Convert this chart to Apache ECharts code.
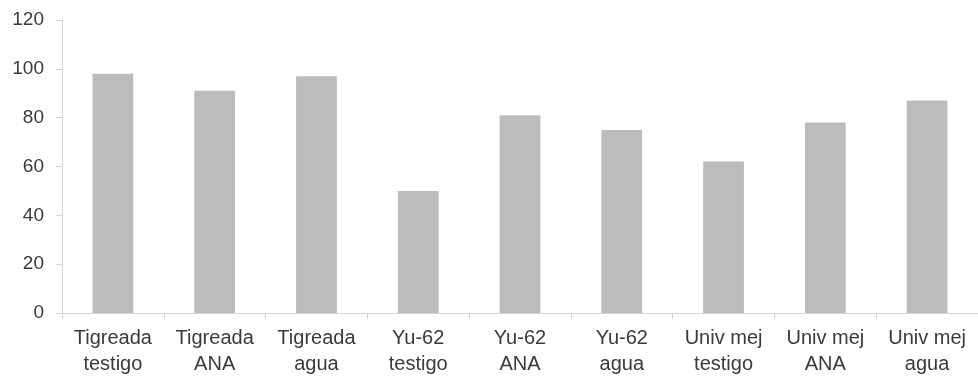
<!DOCTYPE html>
<html>
<head>
<meta charset="utf-8">
<script src="https://cdn.jsdelivr.net/npm/echarts@6/dist/echarts.min.js"></script>
<style>
  html, body { margin: 0; padding: 0; background: #ffffff; }
  #chart { width: 978px; height: 377px; }
</style>
</head>
<body>
<div id="chart"></div>
<script>
// Categories (variety + treatment), two-line labels
const categories = [
  'Tigreada\ntestigo', 'Tigreada\nANA', 'Tigreada\nagua',
  'Yu-62\ntestigo', 'Yu-62\nANA', 'Yu-62\nagua',
  'Univ mej\ntestigo', 'Univ mej\nANA', 'Univ mej\nagua'
];
// Bar values
const values = [98, 91, 97, 50, 81, 75, 62, 78, 87];
// Value axis range
const yMin = 0;
const yMax = 120;
const yStep = 20;

const chart = echarts.init(document.getElementById('chart'), null, { renderer: 'canvas' });
const axisColor = '#d4d4d4';
const textColor = '#3a3a3a';
const font = '"Liberation Sans", Arial, sans-serif';

chart.setOption({
  animation: false,
  backgroundColor: '#ffffff',
  grid: { left: 62, top: 20, bottom: 63, right: -11, containLabel: false },
  xAxis: {
    type: 'category',
    data: categories,
    axisLine: { show: true, lineStyle: { color: axisColor, width: 1 } },
    axisTick: { show: true, length: 6, lineStyle: { color: axisColor } },
    axisLabel: {
      color: textColor, fontFamily: font, fontSize: 20, lineHeight: 26,
      margin: 12, interval: 0
    },
    splitLine: { show: false }
  },
  yAxis: {
    type: 'value',
    min: yMin, max: yMax, interval: yStep,
    axisLine: { show: true, lineStyle: { color: axisColor, width: 1 } },
    axisTick: { show: true, length: 6, lineStyle: { color: axisColor } },
    axisLabel: { color: textColor, fontFamily: font, fontSize: 19, margin: 18 },
    splitLine: { show: false }
  },
  series: [{
    type: 'bar',
    data: values,
    barWidth: '40%',
    itemStyle: { color: '#bcbcbc' }
  }]
});
</script>
</body>
</html>
